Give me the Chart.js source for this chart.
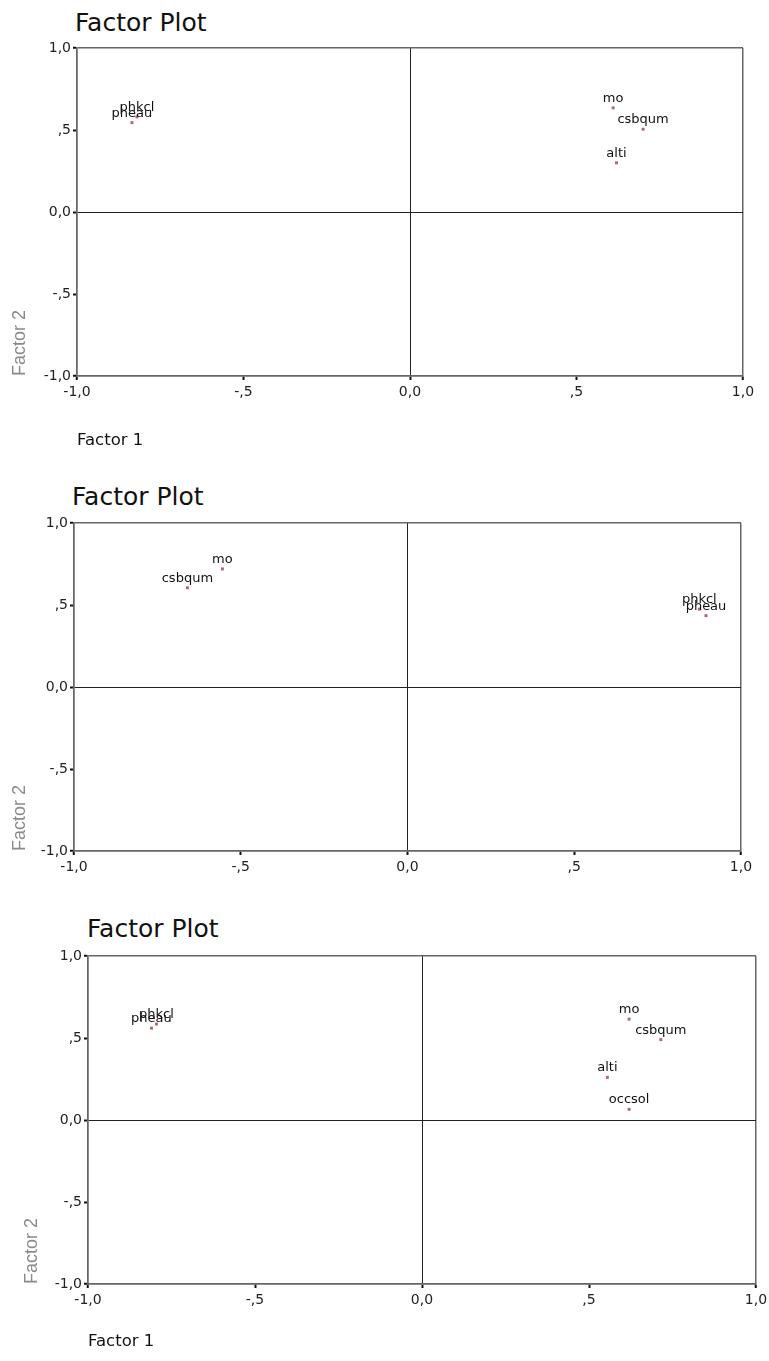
<!DOCTYPE html>
<html>
<head>
<meta charset="utf-8">
<title>Factor Plot</title>
<script src="https://cdn.jsdelivr.net/npm/chart.js@4.4.0/dist/chart.umd.min.js"></script>
<style>
  html, body { margin:0; padding:0; background:#fff; }
  body { width:769px; height:1361px; position:relative; overflow:hidden; }
  .box { position:absolute; left:0; width:769px; }
  .ttl { position:absolute; font-family:'DejaVu Sans', sans-serif; font-size:25px; line-height:25px; color:#111; white-space:nowrap; }
</style>
</head>
<body>
<div class="ttl" style="left:75px;top:10px">Factor Plot</div>
<div class="box" style="top:0;height:460px"><canvas id="plot1"></canvas></div>

<div class="ttl" style="left:72px;top:484px">Factor Plot</div>
<div class="box" style="top:460px;height:420px"><canvas id="plot2"></canvas></div>

<div class="ttl" style="left:87px;top:916px">Factor Plot</div>
<div class="box" style="top:880px;height:481px"><canvas id="plot3"></canvas></div>

<script>
// axis ticks (SPSS style labels)
const tickValues = [-1, -0.5, 0, 0.5, 1];
const tickLabels = ['-1,0', '-,5', '0,0', ',5', '1,0'];

// plot 1
const plot1Names = ['phkcl', 'pheau', 'mo', 'csbqum', 'alti'];
const plot1F1 = [-0.82, -0.835, 0.61, 0.70, 0.62];
const plot1F2 = [0.58, 0.545, 0.635, 0.505, 0.30];

// plot 2
const plot2Names = ['mo', 'csbqum', 'phkcl', 'pheau'];
const plot2F1 = [-0.555, -0.66, 0.875, 0.895];
const plot2F2 = [0.72, 0.605, 0.475, 0.435];

// plot 3
const plot3Names = ['phkcl', 'pheau', 'mo', 'csbqum', 'alti', 'occsol'];
const plot3F1 = [-0.795, -0.81, 0.62, 0.715, 0.555, 0.62];
const plot3F2 = [0.585, 0.56, 0.615, 0.49, 0.26, 0.065];

function gridColor(c) {
  if (!c.tick) return 'rgba(0,0,0,0)';
  if (c.tick.value === 0) return '#222';
  if (Math.abs(c.tick.value) === 1) return '#666';
  return 'rgba(0,0,0,0)';
}
function gridWidth(c) {
  return c.tick && Math.abs(c.tick.value) === 1 ? 1.5 : 1;
}

function axisBase() {
  return {
    type: 'linear', min: -1, max: 1,
    afterBuildTicks: s => { s.ticks = tickValues.map(v => ({value: v})); },
    ticks: {
      callback: v => tickLabels[tickValues.indexOf(v)],
      font: {family: 'DejaVu Sans', size: 14}, color: '#222',
      autoSkip: false, maxRotation: 0
    },
    grid: { color: gridColor, lineWidth: gridWidth, tickLength: 4, tickWidth: 2, tickColor: '#111' },
    border: { color: '#666', width: 1.5 }
  };
}

function factorChart(id, names, f1, f2, lay) {
  const pointNames = {
    id: 'pointNames',
    afterDatasetsDraw(chart) {
      const ctx = chart.ctx;
      const meta = chart.getDatasetMeta(0);
      ctx.save();
      ctx.font = '13px "DejaVu Sans"';
      ctx.fillStyle = '#111';
      ctx.textAlign = 'center';
      ctx.textBaseline = 'alphabetic';
      meta.data.forEach((pt, i) => ctx.fillText(names[i], pt.x, pt.y - 6));
      ctx.restore();
    }
  };

  const x = axisBase();
  x.afterFit = s => { s.height = lay.xh; s.paddingLeft = 0; s.paddingRight = 0; };
  x.ticks.padding = 4;
  x.title = { display: lay.xTitle, text: 'Factor 1', align: 'start', color: '#111',
              font: {family: 'DejaVu Sans', size: 16.5}, padding: 0 };

  const y = axisBase();
  y.afterFit = s => { s.width = lay.left; s.paddingTop = 0; s.paddingBottom = 0; };
  y.ticks.padding = 2;
  y.title = { display: true, text: 'Factor 2', align: 'start', color: '#8a8a8a',
              font: {family: 'Liberation Sans', size: 18}, padding: {top: lay.yt, bottom: 0} };

  return new Chart(document.getElementById(id), {
    type: 'scatter',
    data: {
      datasets: [{
        data: f1.map((v, i) => ({x: v, y: f2[i]})),
        pointStyle: 'rect', pointRadius: 2.1, pointHoverRadius: 2.1,
        pointBorderWidth: 0, backgroundColor: '#b06a6a'
      }]
    },
    options: {
      animation: false, responsive: true, maintainAspectRatio: false, events: [],
      layout: { padding: {top: lay.top, right: lay.right, bottom: lay.bottom, left: 0} },
      plugins: { legend: {display: false}, tooltip: {enabled: false} },
      scales: { x: x, y: y }
    },
    plugins: [pointNames]
  });
}

factorChart('plot1', plot1Names, plot1F1, plot1F2, {top: 48, right: 26, bottom: 9, left: 77, xh: 75, xTitle: true, yt: 9});
factorChart('plot2', plot2Names, plot2F1, plot2F2, {top: 63, right: 28, bottom: 0, left: 74, xh: 29, xTitle: false, yt: 9});
factorChart('plot3', plot3Names, plot3F1, plot3F2, {top: 76, right: 13, bottom: 9, left: 88, xh: 68, xTitle: true, yt: 21});
</script>
</body>
</html>
